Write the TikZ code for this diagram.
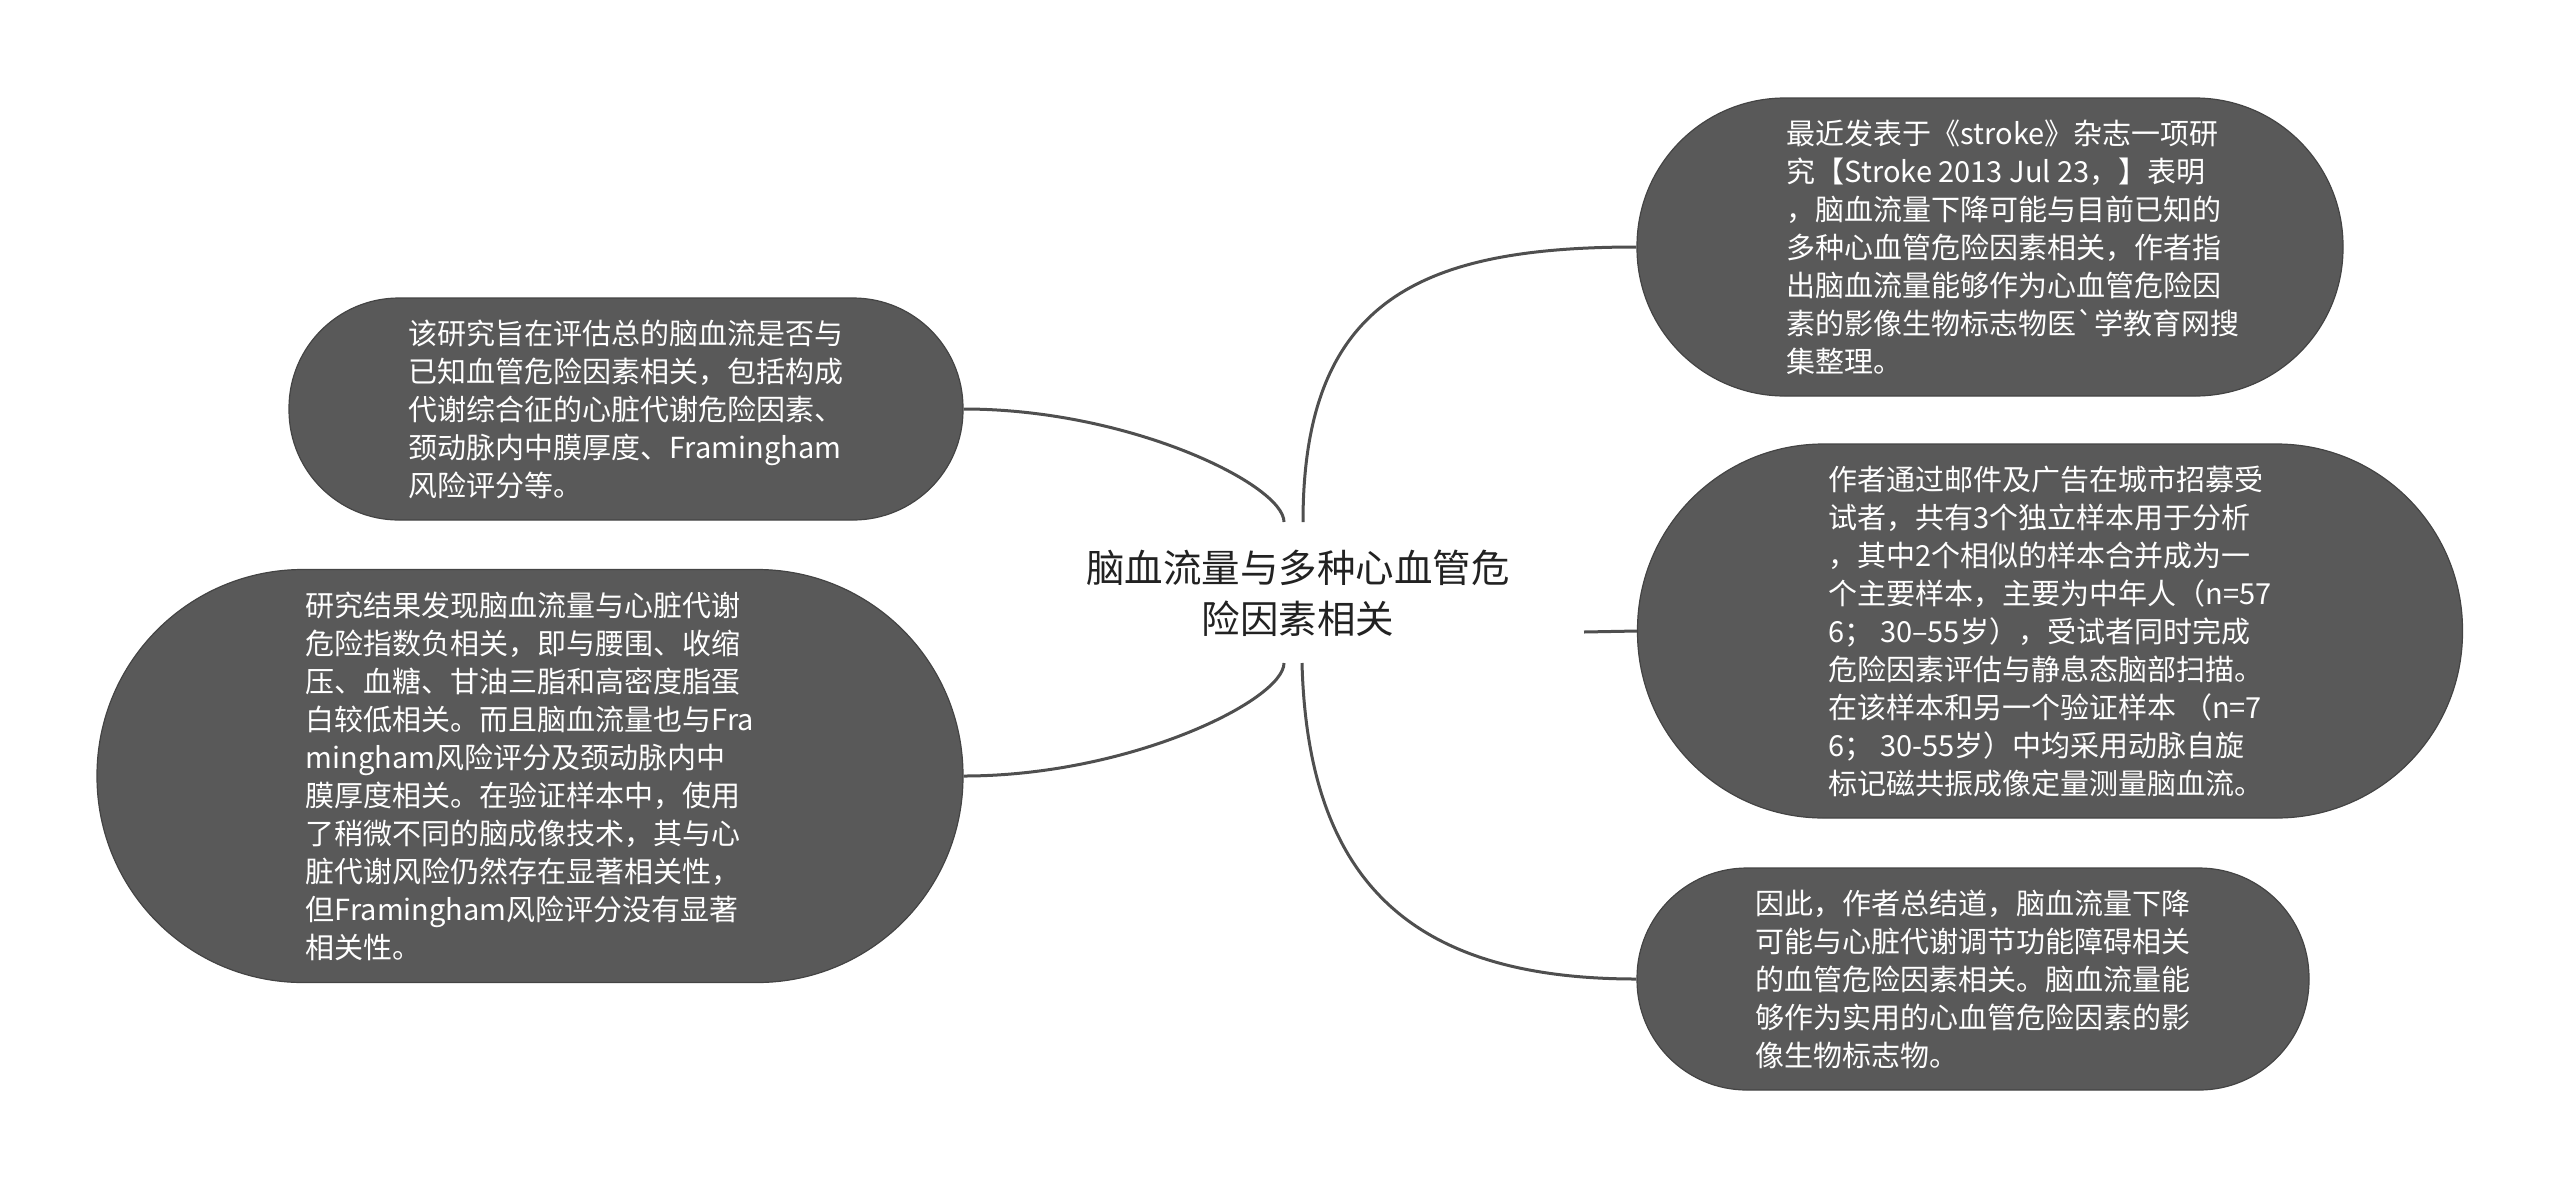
\documentclass[tikz,border=0pt]{standalone}
\usepackage{fontspec}
\setmainfont{Noto Sans CJK SC}[Ligatures=TeXOff]
\definecolor{boxfill}{HTML}{595959}
\definecolor{boxborder}{HTML}{444444}
\definecolor{linkcol}{HTML}{4F4F4F}
\definecolor{roottext}{HTML}{222222}
\newcommand{\ind}{\hspace*{46pt}}
\begin{document}
\begin{tikzpicture}[x=1pt,y=-1pt,
  box/.style={draw=boxborder, line width=1.2pt, fill=boxfill, text=white,
    align=left, font=\fontsize{29pt}{38pt}\selectfont, inner sep=0pt},
  link/.style={draw=linkcol, line width=3pt},
  roottxt/.style={text=roottext, align=center, font=\fontsize{38.5pt}{51pt}\selectfont, inner sep=0pt}]
\useasboundingbox (0,0) rectangle (2560,1187);

% root
\node[roottxt] (root) at (1298,593) {脑血流量与多种心血管危\\险因素相关};
\coordinate (ctl) at (1284,522);
\coordinate (ctr) at (1303,522);
\coordinate (cbl) at (1284,663);
\coordinate (cbr) at (1302,663);
\coordinate (cmr) at (1584,632);

% right nodes
\node[box, minimum width=706pt, minimum height=298pt, rounded corners=148pt] (tr) at (1990,247)
{\ind 最近发表于《stroke》杂志一项研\\
\ind 究【Stroke 2013 Jul 23，】表明\\
\ind ，脑血流量下降可能与目前已知的\\
\ind 多种心血管危险因素相关，作者指\\
\ind 出脑血流量能够作为心血管危险因\\
\ind 素的影像生物标志物医{\char96}学教育网搜\\
\ind 集整理。};

\node[box, minimum width=825pt, minimum height=374pt, rounded corners=186pt] (mr) at (2050,631)
{作者通过邮件及广告在城市招募受\\
试者，共有3个独立样本用于分析\\
，其中2个相似的样本合并成为一\\
个主要样本，主要为中年人（n=57\\
6； 30–55岁），受试者同时完成\\
危险因素评估与静息态脑部扫描。\\
在该样本和另一个验证样本 （n=7\\
6； 30-55岁）中均采用动脉自旋\\
标记磁共振成像定量测量脑血流。};

\node[box, minimum width=672pt, minimum height=222pt, rounded corners=110pt] (br) at (1973,979)
{因此，作者总结道，脑血流量下降\\
可能与心脏代谢调节功能障碍相关\\
的血管危险因素相关。脑血流量能\\
够作为实用的心血管危险因素的影\\
像生物标志物。};

% left nodes
\node[box, minimum width=674pt, minimum height=222pt, rounded corners=110pt] (lt) at (626,409)
{该研究旨在评估总的脑血流是否与\\
已知血管危险因素相关，包括构成\\
代谢综合征的心脏代谢危险因素、\\
颈动脉内中膜厚度、Framingham\\
风险评分等。};

\node[box, minimum width=866pt, minimum height=413pt, rounded corners=206pt] (lb) at (530,776)
{研究结果发现脑血流量与心脏代谢\\
危险指数负相关，即与腰围、收缩\\
压、血糖、甘油三脂和高密度脂蛋\\
白较低相关。而且脑血流量也与Fra\\
mingham风险评分及颈动脉内中\\
膜厚度相关。在验证样本中，使用\\
了稍微不同的脑成像技术，其与心\\
脏代谢风险仍然存在显著相关性，\\
但Framingham风险评分没有显著\\
相关性。};

% connectors
\draw[link] (ctr) .. controls (1303,300) and (1420,247) .. (tr.west);
\draw[link] (cmr) -- (mr.west);
\draw[link] (cbr) .. controls (1308,890) and (1420,979) .. (br.west);
\draw[link] (ctl) .. controls (1284,485) and (1130,409) .. (lt.east);
\draw[link] (cbl) .. controls (1284,700) and (1130,776) .. (lb.east);
\end{tikzpicture}
\end{document}
